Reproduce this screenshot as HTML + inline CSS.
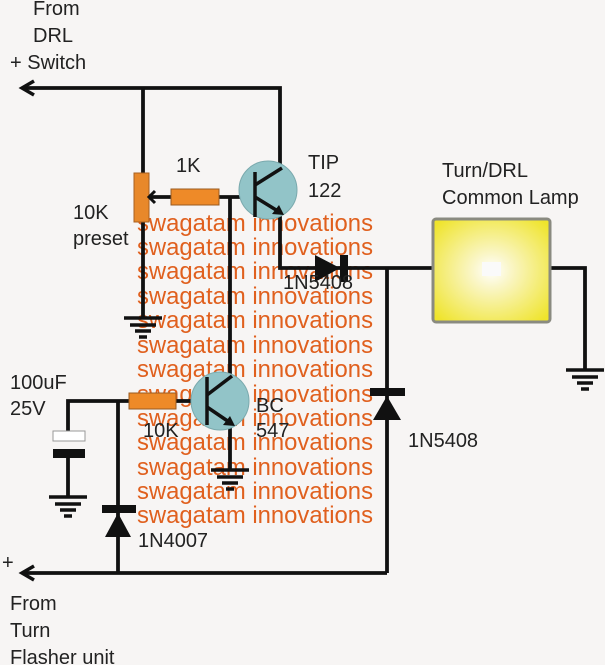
<!DOCTYPE html>
<html><head><meta charset="utf-8"><style>
html,body{margin:0;padding:0;background:#f7f5f4;}
svg{display:block;}
text{font-family:"Liberation Sans",Arial,sans-serif;}
</style></head><body>
<svg width="605" height="665" viewBox="0 0 605 665" xmlns="http://www.w3.org/2000/svg">
<defs>
<radialGradient id="lg" cx="0.5" cy="0.5" r="0.65">
<stop offset="0" stop-color="#ffffff"/><stop offset="0.25" stop-color="#faf6c8"/><stop offset="1" stop-color="#efe42c"/>
</radialGradient>
<g id="gnd" stroke="#111" stroke-width="3.5">
<line x1="-19" y1="0" x2="19" y2="0"/><line x1="-13" y1="7" x2="13" y2="7"/><line x1="-8" y1="13" x2="8" y2="13"/><line x1="-4" y1="19" x2="4" y2="19"/>
</g>
</defs>
<!-- watermark (behind) -->
<g fill="#e0601e" font-size="24">
<text x="137" y="231" textLength="236" lengthAdjust="spacingAndGlyphs">swagatam innovations</text>
<text x="137" y="255" textLength="236" lengthAdjust="spacingAndGlyphs">swagatam innovations</text>
<text x="137" y="279" textLength="236" lengthAdjust="spacingAndGlyphs">swagatam innovations</text>
<text x="137" y="304" textLength="236" lengthAdjust="spacingAndGlyphs">swagatam innovations</text>
<text x="137" y="328" textLength="236" lengthAdjust="spacingAndGlyphs">swagatam innovations</text>
<text x="137" y="353" textLength="236" lengthAdjust="spacingAndGlyphs">swagatam innovations</text>
<text x="137" y="377" textLength="236" lengthAdjust="spacingAndGlyphs">swagatam innovations</text>
<text x="137" y="402" textLength="236" lengthAdjust="spacingAndGlyphs">swagatam innovations</text>
<text x="137" y="426" textLength="236" lengthAdjust="spacingAndGlyphs">swagatam innovations</text>
<text x="137" y="450" textLength="236" lengthAdjust="spacingAndGlyphs">swagatam innovations</text>
<text x="137" y="475" textLength="236" lengthAdjust="spacingAndGlyphs">swagatam innovations</text>
<text x="137" y="499" textLength="236" lengthAdjust="spacingAndGlyphs">swagatam innovations</text>
<text x="137" y="523" textLength="236" lengthAdjust="spacingAndGlyphs">swagatam innovations</text>
</g>
<g stroke="#111" stroke-width="3.8" fill="none">
<polyline points="22,88 280,88 280,168"/>
<line x1="143" y1="88" x2="143" y2="318"/>
<line x1="151" y1="197" x2="171" y2="197"/>
<line x1="219" y1="197" x2="240" y2="197"/>
<line x1="230" y1="197" x2="230" y2="375"/>
<polyline points="280,212 280,268 432,268"/>
<line x1="387" y1="268" x2="387" y2="573"/>
<polyline points="551,268 585,268 585,370"/>
<polyline points="22,573 387,573"/>
<line x1="118" y1="401" x2="118" y2="573"/>
<polyline points="68,432 68,401 129,401"/>
<line x1="176" y1="401" x2="192" y2="401"/>
<line x1="68" y1="458" x2="68" y2="497"/>
<line x1="230" y1="425" x2="230" y2="470"/>
</g>
<polyline points="34,81 22,88 34,95" stroke="#111" stroke-width="3.5" fill="none"/>
<polyline points="34,566 22,573 34,580" stroke="#111" stroke-width="3.5" fill="none"/>
<use href="#gnd" x="143" y="318"/>
<use href="#gnd" x="585" y="370"/>
<use href="#gnd" x="68" y="497"/>
<use href="#gnd" x="230" y="470"/>
<rect x="134" y="173" width="15" height="49" fill="#e8882a" stroke="#a86020" stroke-width="1"/>
<polyline points="155,191 149,197 155,203" stroke="#111" stroke-width="3" fill="none"/>
<rect x="171" y="189" width="48" height="16" fill="#ee8a28" stroke="#9a5a20" stroke-width="1"/>
<rect x="129" y="393" width="47" height="16" fill="#ee8a28" stroke="#9a5a20" stroke-width="1"/>
<circle cx="268" cy="190" r="29" fill="#92c4c8" stroke="#7aa9ad" stroke-width="1"/>
<g stroke="#111" stroke-width="3.5" fill="none">
<line x1="255" y1="172" x2="255" y2="217"/>
<line x1="255" y1="185" x2="282" y2="168"/>
<line x1="255" y1="197" x2="281" y2="213"/>
</g>
<polygon points="284,215 272,214 279,205" fill="#111"/>
<circle cx="220" cy="401" r="29" fill="#92c4c8" stroke="#7aa9ad" stroke-width="1"/>
<g stroke="#111" stroke-width="3.5" fill="none">
<line x1="207" y1="377" x2="207" y2="425"/>
<line x1="207" y1="395" x2="232" y2="376"/>
<line x1="207" y1="407" x2="232" y2="424"/>
</g>
<polygon points="235,426 223,425 230,416" fill="#111"/>
<polygon points="315,255 315,282 340,268" fill="#111"/>
<rect x="340" y="255" width="8" height="27" fill="#111"/>
<rect x="370" y="388" width="35" height="8" fill="#111"/>
<polygon points="387,396 373,420 401,420" fill="#111"/>
<rect x="102" y="505" width="34" height="8" fill="#111"/>
<polygon points="118,513 105,537 131,537" fill="#111"/>
<rect x="53" y="431" width="32" height="10" fill="#fff" stroke="#999" stroke-width="1"/>
<rect x="53" y="449" width="32" height="9" fill="#111"/>
<rect x="433" y="219" width="117" height="103" rx="3" fill="url(#lg)" stroke="#8a8a80" stroke-width="3"/>
<rect x="482" y="262" width="19" height="14" fill="#fafafa"/>
<g fill="#222" font-size="20">
<text x="33" y="15">From</text>
<text x="33" y="42">DRL</text>
<text x="10" y="69">+ Switch</text>
<text x="308" y="169">TIP</text>
<text x="308" y="197">122</text>
<text x="176" y="172">1K</text>
<text x="73" y="219">10K</text>
<text x="73" y="245">preset</text>
<text x="283" y="289">1N5408</text>
<text x="442" y="177">Turn/DRL</text>
<text x="442" y="204">Common Lamp</text>
<text x="10" y="389">100uF</text>
<text x="10" y="415">25V</text>
<text x="256" y="412">BC</text>
<text x="256" y="437">547</text>
<text x="143" y="437">10K</text>
<text x="408" y="447">1N5408</text>
<text x="138" y="547">1N4007</text>
<text x="2" y="569">+</text>
<text x="10" y="610">From</text>
<text x="10" y="637">Turn</text>
<text x="10" y="664">Flasher unit</text>
</g>
</svg>
</body></html>
